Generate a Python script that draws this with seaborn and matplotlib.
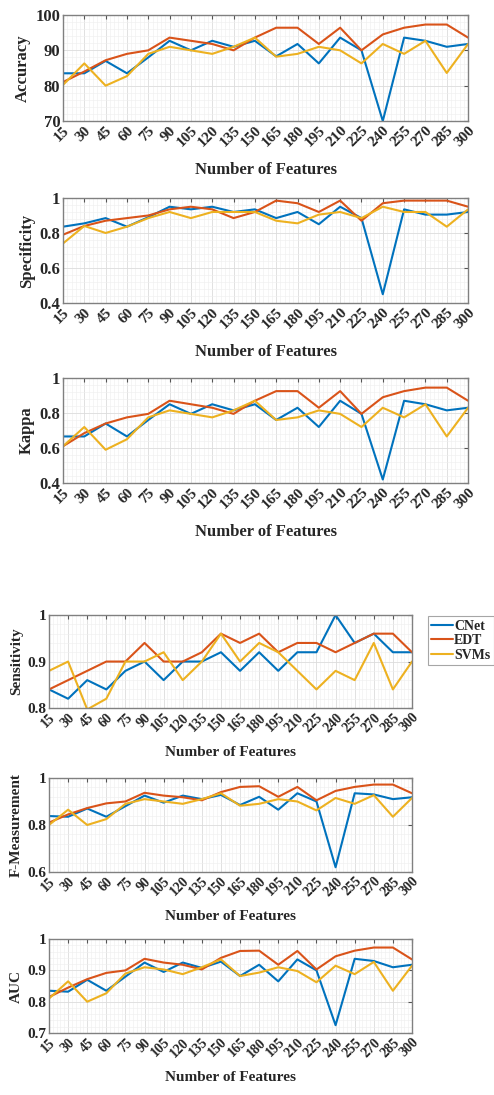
import numpy as np
import pandas as pd
import matplotlib
matplotlib.use('Agg')
import matplotlib.pyplot as plt
import seaborn as sns
from matplotlib.ticker import AutoMinorLocator

# Number of features on the x axis
features = [15, 30, 45, 60, 75, 90, 105, 120, 135, 150,
            165, 180, 195, 210, 225, 240, 255, 270, 285, 300]
methods = ['CNet', 'EDT', 'SVMs']

# Accuracy (%)
acc_cnet = [83.5, 83.5, 87, 83.5, 88, 92.7, 90, 92.7, 91, 92.7,
            88.3, 91.8, 86.3, 93.6, 90, 70, 93.6, 92.7, 91, 91.8]
acc_edt = [81, 84, 87.2, 89, 90, 93.6, 92.7, 91.8, 90, 93.6,
           96.4, 96.4, 91.8, 96.4, 90, 94.5, 96.4, 97.3, 97.3, 93.6]
acc_svm = [80.2, 86.3, 80, 82.7, 89, 91, 90, 89, 91, 93.6,
           88.2, 89, 91, 90, 86.3, 91.8, 89, 92.7, 83.6, 91.8]

# Specificity
spe_cnet = [0.836, 0.855, 0.885, 0.836, 0.89, 0.95, 0.935, 0.95, 0.92, 0.935,
            0.885, 0.92, 0.85, 0.95, 0.885, 0.45, 0.935, 0.905, 0.905, 0.92]
spe_edt = [0.79, 0.84, 0.87, 0.885, 0.9, 0.935, 0.95, 0.935, 0.885, 0.92,
           0.985, 0.97, 0.92, 0.985, 0.87, 0.97, 0.985, 0.985, 0.985, 0.95]
spe_svm = [0.74, 0.84, 0.80, 0.836, 0.885, 0.92, 0.885, 0.92, 0.92, 0.92,
           0.87, 0.855, 0.905, 0.92, 0.885, 0.95, 0.92, 0.92, 0.836, 0.935]

# Kappa
kap_cnet = [0.666, 0.666, 0.74, 0.666, 0.76, 0.85, 0.795, 0.85, 0.815, 0.85,
            0.76, 0.83, 0.72, 0.87, 0.795, 0.42, 0.87, 0.85, 0.815, 0.83]
kap_edt = [0.61, 0.685, 0.74, 0.775, 0.795, 0.87, 0.85, 0.83, 0.795, 0.87,
           0.925, 0.925, 0.83, 0.925, 0.795, 0.89, 0.925, 0.945, 0.945, 0.87]
kap_svm = [0.61, 0.72, 0.59, 0.65, 0.775, 0.815, 0.795, 0.775, 0.815, 0.87,
           0.76, 0.775, 0.815, 0.795, 0.72, 0.83, 0.775, 0.85, 0.666, 0.83]

# Sensitivity
sen_cnet = [0.84, 0.82, 0.86, 0.84, 0.88, 0.90, 0.86, 0.90, 0.90, 0.92,
            0.88, 0.92, 0.88, 0.92, 0.92, 1.0, 0.94, 0.96, 0.92, 0.92]
sen_edt = [0.84, 0.86, 0.88, 0.90, 0.90, 0.94, 0.90, 0.90, 0.92, 0.96,
           0.94, 0.96, 0.92, 0.94, 0.94, 0.92, 0.94, 0.96, 0.96, 0.92]
sen_svm = [0.88, 0.90, 0.797, 0.82, 0.90, 0.90, 0.92, 0.86, 0.90, 0.96,
           0.90, 0.94, 0.92, 0.88, 0.84, 0.88, 0.86, 0.94, 0.84, 0.90]

# F-Measurement
fm_cnet = [0.838, 0.835, 0.87, 0.835, 0.88, 0.925, 0.895, 0.925, 0.91, 0.928,
           0.885, 0.92, 0.865, 0.935, 0.9, 0.62, 0.935, 0.93, 0.91, 0.918]
fm_edt = [0.81, 0.845, 0.872, 0.892, 0.9, 0.937, 0.925, 0.918, 0.905, 0.94,
          0.962, 0.965, 0.92, 0.962, 0.905, 0.945, 0.962, 0.972, 0.972, 0.935]
fm_svm = [0.80, 0.865, 0.80, 0.825, 0.89, 0.91, 0.9, 0.89, 0.91, 0.935,
          0.882, 0.89, 0.91, 0.9, 0.862, 0.915, 0.89, 0.927, 0.835, 0.915]

# AUC
auc_cnet = [0.835, 0.832, 0.87, 0.835, 0.88, 0.925, 0.895, 0.925, 0.908, 0.928,
            0.882, 0.918, 0.865, 0.935, 0.9, 0.725, 0.937, 0.93, 0.91, 0.918]
auc_edt = [0.815, 0.845, 0.872, 0.892, 0.9, 0.937, 0.925, 0.918, 0.903, 0.94,
           0.962, 0.963, 0.918, 0.962, 0.903, 0.945, 0.963, 0.973, 0.973, 0.935]
auc_svm = [0.81, 0.865, 0.8, 0.827, 0.89, 0.91, 0.903, 0.888, 0.91, 0.935,
           0.882, 0.893, 0.91, 0.898, 0.862, 0.915, 0.888, 0.927, 0.835, 0.915]

colors = ['#0072BD', '#D95319', '#EDB120']

sns.set_style('white')
plt.rcParams['font.family'] = ['Liberation Serif', 'DejaVu Serif']
plt.rcParams['font.weight'] = 'bold'

fig = plt.figure(figsize=(4.94, 10.95), dpi=100)

# (name, series, ylim, yticks, ticklabels, axes rect, fontsize, xlabel pad)
panels = [
    ('Accuracy', [acc_cnet, acc_edt, acc_svm], (70, 100), [70, 80, 90, 100],
     ['70', '80', '90', '100'], [0.1275, 0.8895, 0.820, 0.0968], 11, 9),
    ('Specificity', [spe_cnet, spe_edt, spe_svm], (0.4, 1), [0.4, 0.6, 0.8, 1],
     ['0.4', '0.6', '0.8', '1'], [0.1275, 0.7233, 0.820, 0.0959], 11, 9),
    ('Kappa', [kap_cnet, kap_edt, kap_svm], (0.4, 1), [0.4, 0.6, 0.8, 1],
     ['0.4', '0.6', '0.8', '1'], [0.1275, 0.5589, 0.820, 0.0959], 11, 9),
    ('Sensitivity', [sen_cnet, sen_edt, sen_svm], (0.8, 1), [0.8, 0.9, 1],
     ['0.8', '0.9', '1'], [0.0992, 0.3534, 0.7348, 0.0849], 10, 8),
    ('F-Measurement', [fm_cnet, fm_edt, fm_svm], (0.6, 1), [0.6, 0.8, 1],
     ['0.6', '0.8', '1'], [0.0992, 0.2037, 0.7348, 0.0858], 10, 8),
    ('AUC', [auc_cnet, auc_edt, auc_svm], (0.7, 1), [0.7, 0.8, 0.9, 1],
     ['0.7', '0.8', '0.9', '1'], [0.0992, 0.0566, 0.7348, 0.0858], 10, 8),
]

for i, (name, series, ylim, yt, ytl, rect, fs, xpad) in enumerate(panels):
    ax = fig.add_axes(rect)
    df = pd.DataFrame({
        'Features': features * 3,
        'Value': series[0] + series[1] + series[2],
        'Method': np.repeat(methods, len(features)),
    })
    sns.lineplot(data=df, x='Features', y='Value', hue='Method',
                 palette=colors, linewidth=1.5, ax=ax, legend=(i == 3))
    ax.set_xlim(15, 300)
    ax.set_ylim(*ylim)
    ax.set_xticks(features)
    ax.set_xticklabels([str(f) for f in features], rotation=45, ha='right',
                       rotation_mode='anchor', fontsize=fs, fontweight='bold')
    ax.set_yticks(yt)
    ax.set_yticklabels(ytl, fontsize=fs + 1, fontweight='bold')
    ax.xaxis.set_minor_locator(AutoMinorLocator(5))
    ax.yaxis.set_minor_locator(AutoMinorLocator(5))
    ax.grid(which='major', color='#dcdcdc', linewidth=0.6)
    ax.grid(which='minor', color='#eeeeee', linewidth=0.4)
    ax.set_axisbelow(True)
    ax.tick_params(which='major', direction='in', top=True, right=True,
                   length=3, color='#555555', pad=2)
    ax.tick_params(which='minor', length=0)
    for s in ax.spines.values():
        s.set_color('#808080')
        s.set_linewidth(1.0)
    ax.set_xlabel('Number of Features', fontsize=fs + 1, fontweight='bold',
                  labelpad=xpad)
    ax.set_ylabel(name, fontsize=fs + 1, fontweight='bold', labelpad=3)
    if i == 3:
        leg = ax.legend(loc='upper left', bbox_to_anchor=(0.866, 0.437),
                        bbox_transform=fig.transFigure, frameon=True,
                        fancybox=False, edgecolor='#909090', fontsize=10,
                        handlelength=1.6, handletextpad=0.05, borderpad=0.25,
                        labelspacing=0.1, borderaxespad=0)
        leg.get_frame().set_linewidth(0.8)
        for t in leg.get_texts():
            t.set_fontweight('bold')

fig.savefig('out.png', dpi=100)
